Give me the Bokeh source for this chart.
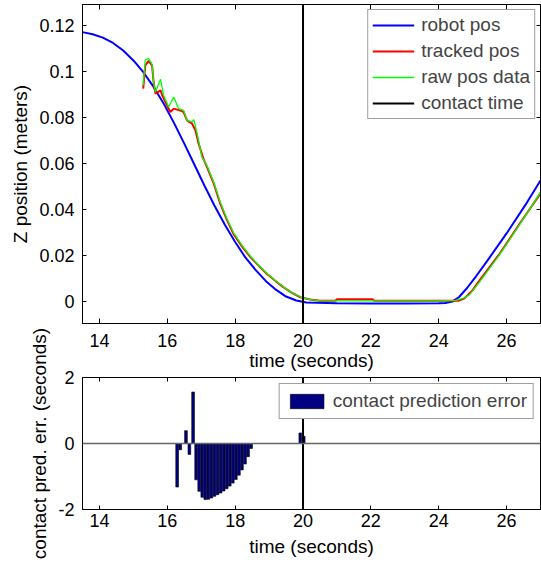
from bokeh.plotting import figure
from bokeh.models import (Range1d, LinearAxis, Legend, LegendItem, Span, FixedTicker,
                          CustomLabelingPolicy)
from bokeh.layouts import column
from bokeh.embed import file_html
from bokeh.resources import INLINE

# ---------------- data ----------------
contact_time = 20.0

t_robot = [13.5, 13.8, 14.1, 14.4, 14.7, 15.0, 15.3, 15.6, 15.9, 16.2, 16.5, 16.8, 17.1,
           17.4, 17.7, 18.0, 18.3, 18.6, 18.9, 19.2, 19.5, 19.8, 20.1, 21.0, 22.0, 23.0,
           24.0, 24.2, 24.4, 24.6, 24.83, 25.1, 25.42, 26.0, 26.6, 27.0]
z_robot = [0.1170, 0.1161, 0.1146, 0.1123, 0.1090, 0.1047, 0.0995, 0.0931, 0.0858, 0.0775,
           0.0686, 0.0594, 0.0502, 0.0414, 0.0333, 0.0259, 0.0192, 0.0138, 0.0090, 0.0052,
           0.0022, 0.0005, -0.0004, -0.0007, -0.0008, -0.0008, -0.0007, -0.0006, 0.0000,
           0.0020, 0.0058, 0.0110, 0.0175, 0.0296, 0.0430, 0.0526]

t_tracked = [15.29, 15.35, 15.45, 15.55, 15.60, 15.65, 15.80, 15.85, 15.99, 16.09, 16.19,
             16.38, 16.48, 16.58, 16.73, 16.83, 16.92, 17.06, 17.17, 17.37, 17.56, 17.75,
             17.95, 18.2, 18.45, 18.7, 18.94, 19.2, 19.43, 19.65, 19.92, 20.21, 20.5, 20.95,
             21.0, 22.05, 22.1, 23.0, 24.0, 24.57, 24.75, 25.0, 25.2, 25.8, 26.39, 27.0]
z_tracked = [0.0925, 0.1026, 0.1045, 0.1026, 0.0947, 0.0903, 0.0917, 0.0896, 0.0852, 0.0823,
             0.0838, 0.0830, 0.0823, 0.0787, 0.0773, 0.0743, 0.0687, 0.0622, 0.0584, 0.0512,
             0.0425, 0.0357, 0.0294, 0.0240, 0.0193, 0.0155, 0.0120, 0.0088, 0.0062, 0.0040,
             0.0019, 0.0009, 0.0004, 0.0004, 0.0010, 0.0010, 0.0004, 0.0004, 0.0004, 0.0004,
             0.0013, 0.0050, 0.0091, 0.0209, 0.0339, 0.0470]

t_raw = [15.29, 15.35, 15.45, 15.55, 15.60, 15.65, 15.80, 15.89, 16.04, 16.19, 16.33, 16.48,
         16.58, 16.73, 16.78, 16.88, 17.02, 17.17, 17.37, 17.56, 17.75, 17.95, 18.2, 18.45,
         18.7, 18.94, 19.2, 19.43, 19.65, 19.92, 20.21, 20.5, 21.0, 22.0, 23.0, 24.0, 24.5,
         24.75, 24.9, 25.2, 25.8, 26.39, 27.0]
z_raw = [0.0940, 0.1050, 0.1055, 0.1030, 0.0950, 0.0910, 0.0965, 0.0896, 0.0845, 0.0888,
         0.0838, 0.0830, 0.0787, 0.0780, 0.0790, 0.0729, 0.0627, 0.0590, 0.0518, 0.0432,
         0.0362, 0.0300, 0.0244, 0.0197, 0.0157, 0.0122, 0.0090, 0.0063, 0.0041, 0.0020,
         0.0009, 0.0004, 0.0003, 0.0003, 0.0003, 0.0003, 0.0005, 0.0016, 0.0028, 0.0085,
         0.0205, 0.0335, 0.0475]

err_t = [16.29, 16.38, 16.55, 16.65, 16.76, 16.85, 16.94, 17.03, 17.12, 17.21, 17.30, 17.39,
         17.48, 17.57, 17.66, 17.75, 17.84, 17.93, 18.02, 18.11, 18.20, 18.29, 18.38, 18.47,
         19.92, 20.02]
err_v = [-1.32, -0.19, 0.39, -0.33, 1.56, -1.10, -1.45, -1.63, -1.70, -1.69, -1.65, -1.60,
         -1.55, -1.50, -1.44, -1.37, -1.29, -1.20, -1.09, -0.96, -0.80, -0.62, -0.40, -0.15,
         0.32, 0.22]

x_ticks = [14, 16, 18, 20, 22, 24, 26]
z_ticks = [0, 0.02, 0.04, 0.06, 0.08, 0.1, 0.12]
z_tick_labels = ["0", "0.02", "0.04", "0.06", "0.08", "0.1", "0.12"]
e_ticks = [-2, 0, 2]
e_tick_labels = ["-2", "0", "2"]

x_lim = (13.5, 27.0)
z_lim = (-0.0095, 0.129)
e_lim = (-2.0, 2.0)

FONT = "Liberation Sans"
TICK_FS = "18px"
LAB_FS = "19px"

HIDE_ALL = """
const all = Array.from(indices)
for (const i of all) { indices.unset(i) }
return indices
"""


def style_axes(p, xticks, yticks, ylabels, xtick_len, ytick_len, x_tick_standoff, x_lab_standoff):
    p.xaxis.ticker = FixedTicker(ticks=xticks)
    p.yaxis.ticker = FixedTicker(ticks=yticks)
    p.yaxis.major_label_overrides = {v: s for v, s in zip(yticks, ylabels)}
    for ax in (p.xaxis[0], p.yaxis[0]):
        ax.major_tick_out = 0
        ax.minor_tick_line_color = None
        ax.axis_line_color = "black"
        ax.major_tick_line_color = "black"
        ax.major_label_text_font = FONT
        ax.major_label_text_font_size = TICK_FS
        ax.major_label_text_color = "black"
        ax.axis_label_text_font = FONT
        ax.axis_label_text_font_size = LAB_FS
        ax.axis_label_text_font_style = "normal"
        ax.axis_label_text_color = "black"
    p.xaxis.major_tick_in = xtick_len
    p.yaxis.major_tick_in = ytick_len
    p.xaxis.major_label_standoff = x_tick_standoff
    p.xaxis.axis_label_standoff = x_lab_standoff
    p.yaxis.major_label_standoff = 8
    p.yaxis.axis_label_standoff = 5
    # box ticks on top and right (no labels)
    top = LinearAxis(ticker=FixedTicker(ticks=xticks), major_tick_in=xtick_len, major_tick_out=0,
                     minor_tick_line_color=None, major_label_text_font_size="0px",
                     major_label_policy=CustomLabelingPolicy(code=HIDE_ALL),
                     major_label_standoff=0, axis_line_color="black")
    right = LinearAxis(ticker=FixedTicker(ticks=yticks), major_tick_in=ytick_len, major_tick_out=0,
                       minor_tick_line_color=None, major_label_text_font_size="0px",
                       major_label_policy=CustomLabelingPolicy(code=HIDE_ALL),
                       major_label_standoff=0, axis_line_color="black")
    p.add_layout(top, "above")
    p.add_layout(right, "right")
    p.xgrid.visible = False
    p.ygrid.visible = False
    p.outline_line_color = "black"


# ---------------- top panel ----------------
p1 = figure(width=541, height=379, x_range=Range1d(*x_lim), y_range=Range1d(*z_lim),
            output_backend="svg", toolbar_location=None,
            min_border_left=82, min_border_right=1, min_border_top=4, min_border_bottom=56,
            x_axis_label="time (seconds)", y_axis_label="Z position (meters)")
style_axes(p1, x_ticks, z_ticks, z_tick_labels, 5, 4, 10, 0)

r_robot = p1.line(t_robot, z_robot, line_color="#0000FF", line_width=2)
r_tracked = p1.line(t_tracked, z_tracked, line_color="#FF0000", line_width=2)
r_raw = p1.line(t_raw, z_raw, line_color="#00FF00", line_width=1.3)
r_contact = p1.line([contact_time, contact_time], list(z_lim), line_color="black", line_width=2)

leg1 = Legend(items=[LegendItem(label="robot pos", renderers=[r_robot]),
                     LegendItem(label="tracked pos", renderers=[r_tracked]),
                     LegendItem(label="raw pos data", renderers=[r_raw]),
                     LegendItem(label="contact time", renderers=[r_contact])],
              location="top_right", margin=5, padding=4, spacing=4,
              glyph_width=42, glyph_height=20, label_height=20, label_standoff=7,
              label_text_font=FONT, label_text_font_size=LAB_FS,
              border_line_color="#404040", border_line_width=1,
              background_fill_color="white", background_fill_alpha=1.0)
p1.add_layout(leg1)

# ---------------- bottom panel ----------------
p2 = figure(width=541, height=243, x_range=Range1d(*x_lim), y_range=Range1d(*e_lim),
            output_backend="svg", toolbar_location=None,
            min_border_left=82, min_border_right=1, min_border_top=57, min_border_bottom=54,
            x_axis_label="time (seconds)", y_axis_label="contact pred. err. (seconds)",
            margin=(-59, 0, 0, 0))
p2.border_fill_color = None
p2.background_fill_color = "white"
style_axes(p2, x_ticks, e_ticks, e_tick_labels, 4, 4, 4, 6)

p2.add_layout(Span(location=0, dimension="width", line_color="#666666", line_width=1.5))
r_err = p2.vbar(x=err_t, top=err_v, bottom=0, width=0.08, fill_color="#000080",
                line_color="black", line_width=0.6)
p2.line([contact_time, contact_time], list(e_lim), line_color="black", line_width=2)

leg2 = Legend(items=[LegendItem(label="contact prediction error", renderers=[r_err])],
              location="top_right", margin=6, padding=6, spacing=0,
              glyph_width=42, glyph_height=18, label_height=18, label_standoff=5,
              label_text_font=FONT, label_text_font_size=LAB_FS,
              border_line_color="#404040", border_line_width=1,
              background_fill_color="white", background_fill_alpha=1.0)
p2.add_layout(leg2)

layout = column(p1, p2, spacing=0)
open("out.html", "w").write(file_html(layout, INLINE))
